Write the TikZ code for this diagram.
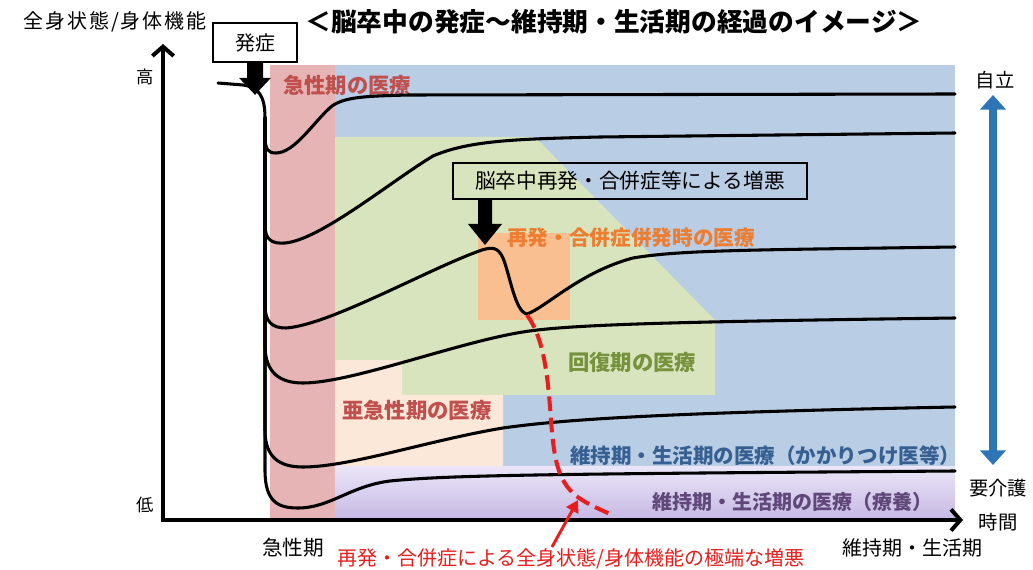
\documentclass[tikz,border=0pt]{standalone}
\usepackage{fontspec}
\setmainfont{Noto Sans CJK JP}
\newfontfamily\jpspaced[LetterSpace=9]{Noto Sans CJK JP}
\usetikzlibrary{arrows.meta,calc}
\newcommand\fsz[1]{\fontsize{#1}{#1}\selectfont}
\definecolor{bgblue}{RGB}{185,205,229}
\definecolor{bgpink}{RGB}{230,180,180}
\definecolor{bggreen}{RGB}{215,228,189}
\definecolor{bgpeach}{RGB}{252,232,216}
\definecolor{bgorange}{RGB}{249,191,145}
\definecolor{lavtop}{RGB}{234,229,247}
\definecolor{lavbot}{RGB}{198,184,228}
\definecolor{txred}{RGB}{192,80,77}
\definecolor{txorange}{RGB}{237,125,49}
\definecolor{txgreen}{RGB}{118,146,60}
\definecolor{txblue}{RGB}{55,96,146}
\definecolor{txpurple}{RGB}{96,73,122}
\definecolor{arrowblue}{RGB}{46,117,182}
\definecolor{alertred}{RGB}{232,30,30}
\begin{document}
\begin{tikzpicture}[x=0.75pt,y=-0.75pt,
  every node/.style={inner sep=0pt,outer sep=0pt},
  curve/.style={line width=2.3pt,line cap=round,line join=round},
  lbl/.style={anchor=center,text=black},
  region/.style={font=\bfseries},
  boxed/.style={draw=black,line width=1.5pt,anchor=center}]
\useasboundingbox (0,0) rectangle (1033,570);
\fill[white] (0,0) rectangle (1033,570);
% background regions
\fill[bgblue] (335,65) rectangle (955,520);
\fill[bgpink] (270,65) rectangle (335,520);
\fill[bggreen] (335,137) -- (535,137) -- (715,320) -- (715,395) -- (402,395) -- (402,360) -- (335,360) -- cycle;
\fill[bgpeach] (335,360) -- (402,360) -- (402,395) -- (503,395) -- (503,467) -- (335,467) -- cycle;
\fill[bgorange] (478,233) rectangle (570,320);
\shade[top color=lavtop,bottom color=lavbot] (335,467) rectangle (955,520);
% region labels
\node[region,anchor=west,text=txred] (lacute) at (283,85) {\fsz{16pt}急性期の医療};
\node[region,anchor=west,text=txorange] (lrec) at (507,238) {\fsz{15.5pt}再発・合併症併発時の医療};
\node[region,anchor=west,text=txgreen] (lrecov) at (568,362) {\fsz{16pt}回復期の医療};
\node[region,anchor=west,text=txred] (lsub) at (342,410) {\fsz{16pt}亜急性期の医療};
\node[region,anchor=west,text=txblue] (lmaint) at (570,456) {\fsz{15.4pt}維持期・生活期の医療（かかりつけ医等）};
\node[region,anchor=west,text=txpurple] (lcare) at (652,502) {\fsz{15pt}維持期・生活期の医療（療養）};
% curves
\coordinate (s) at (218,83);
\draw[curve] (s) -- (243,85) .. controls (258,87) and (265,95) .. (265,118) -- (265,135)
  .. controls (265,150) and (268,153) .. (276,153) .. controls (295,153) and (315,120) .. (332,106)
  .. controls (345,97) and (365,96) .. (410,95) -- (955,94);
\draw[curve] (265,118) -- (265,225) .. controls (265,240) and (272,244) .. (285,243)
  .. controls (320,240) and (390,182) .. (433,156) .. controls (470,140) and (520,139) .. (600,137) -- (955,133);
\draw[curve] (265,118) -- (265,305) .. controls (265,322) and (272,328) .. (286,328)
  .. controls (330,325) and (430,268) .. (482,250) .. controls (492,247) and (498,247) .. (503,258)
  .. controls (510,275) and (515,312) .. (527,314) .. controls (545,308) and (580,272) .. (633,258)
  .. controls (680,250) and (750,250) .. (955,247);
\draw[curve] (265,118) -- (265,345) .. controls (265,373) and (280,383) .. (303,383)
  .. controls (350,383) and (450,345) .. (517,333) .. controls (560,325) and (650,322) .. (955,318);
\draw[curve] (265,118) -- (265,430) .. controls (265,458) and (280,467) .. (303,467)
  .. controls (350,467) and (430,440) .. (503,428) .. controls (560,420) and (650,413) .. (955,407);
\draw[curve] (265,118) -- (265,470) .. controls (265,502) and (278,508) .. (298,508)
  .. controls (330,508) and (350,486) .. (390,481) .. controls (450,475) and (550,474) .. (955,471);
% red dashed deterioration
\draw[alertred,line width=3pt,dash pattern=on 11pt off 5pt] (527,315) .. controls (545,340) and (548,380) .. (551,420)
  .. controls (554,460) and (558,480) .. (575,495) .. controls (585,503) and (597,508) .. (610,514);
% axes
\draw[line width=3pt,{Straight Barb[length=7pt,width=16pt]}-{Straight Barb[length=7pt,width=16pt]}] (163,44) -- (163,520) -- (963,520);
% blue double arrow
\draw[arrowblue,line width=6.5pt,{Triangle[length=11pt,width=19pt]}-{Triangle[length=11pt,width=19pt]}] (993,95) -- (993,465);
% onset box and arrow
\node[boxed,fill=white,minimum width=63pt,minimum height=29pt] (onset) at (255,42.5) {\fsz{15pt}発症};
\fill ($(onset.south)+(-8,0)$) -- ++(0,16) -- ++(-8,0) -- ++(16,17) -- ++(16,-17) -- ++(-8,0) -- ++(0,-16) -- cycle;
% worsening box and arrow
\node[boxed,minimum width=265.5pt,minimum height=27pt] (worse) at (630,181) {\fsz{15.5pt}脳卒中再発・合併症等による増悪};
\fill ($(worse.south west)+(25,0)$) -- ++(0,25) -- ++(-10,0) -- ++(17,21) -- ++(17,-21) -- ++(-10,0) -- ++(0,-25) -- cycle;
% texts
\node[lbl,font=\bfseries] (title) at (614,22) {\fsz{19.3pt}＜脳卒中の発症～維持期・生活期の経過のイメージ＞};
\node[lbl] (ylab) at (115,22) {\jpspaced\fsz{15pt}全身状態/身体機能};
\node[lbl] (high) at (145,77) {\fsz{13pt}高};
\node[lbl] (low) at (145,505) {\fsz{13pt}低};
\node[lbl] (indep) at (995,80) {\fsz{14.5pt}自立};
\node[lbl] (care) at (998,488) {\fsz{14.5pt}要介護};
\node[lbl] (time) at (998,522) {\fsz{14.5pt}時間};
\node[lbl] (acute) at (293,548) {\fsz{15.5pt}急性期};
\node[lbl] (maintx) at (912,548) {\fsz{15pt}維持期・生活期};
\node[anchor=west,text=alertred] (note) at (337,559) {\fsz{15pt}再発・合併症による全身状態/身体機能の極端な増悪};
\coordinate (notetip) at (578,500);
\draw[alertred,line width=2.2pt,-{Triangle[length=9pt,width=10pt]}] (552,547) -- (notetip);
\end{tikzpicture}
\end{document}
